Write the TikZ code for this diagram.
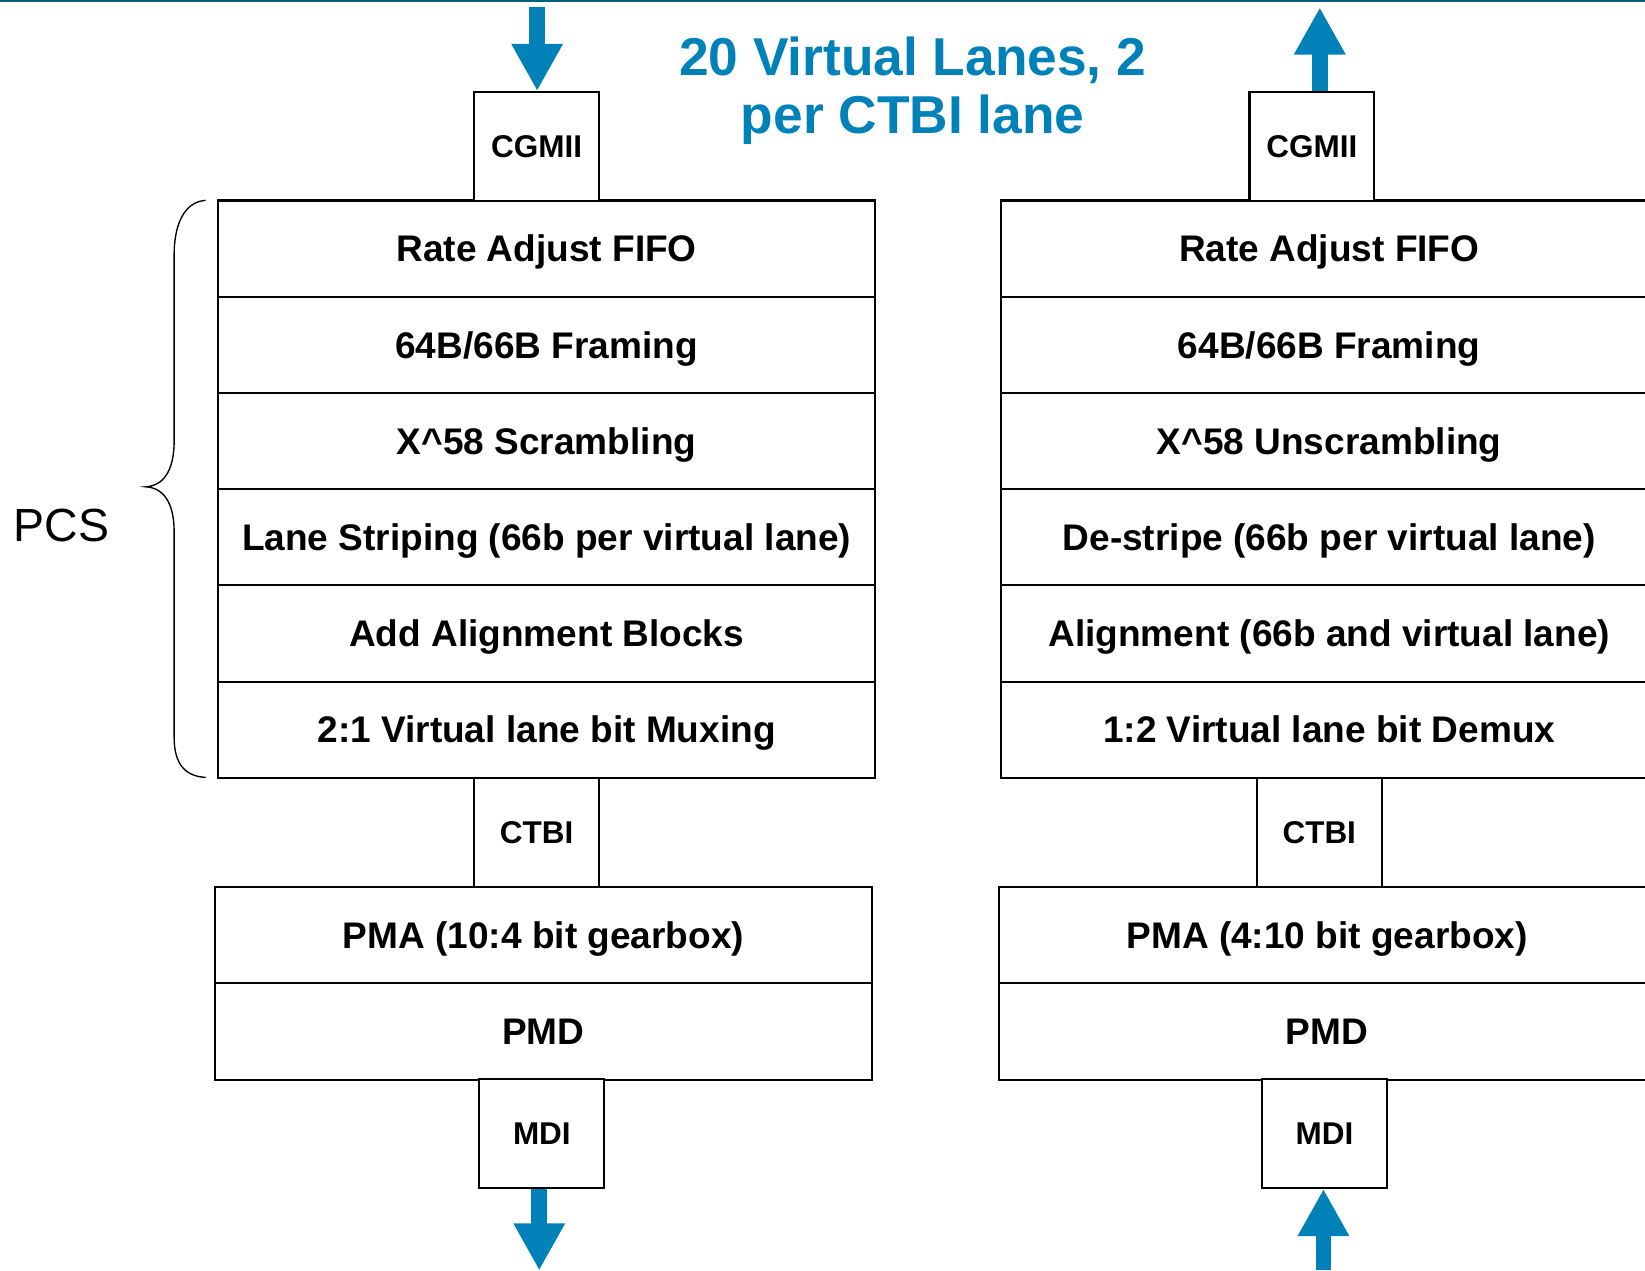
\documentclass[tikz,border=0pt]{standalone}
\usepackage{fontspec}
\setmainfont{Liberation Sans}
\usetikzlibrary{arrows.meta}
\definecolor{flowblue}{RGB}{0,130,185}
\definecolor{rulecol}{RGB}{0,94,128}
\tikzset{
  layer/.style={draw, line width=2pt, minimum width=626pt, minimum height=91.7pt,
    inner sep=0pt, text height=25.3pt, text depth=0pt,
    font=\fontsize{35.3}{40}\selectfont\bfseries},
  iface/.style={draw, line width=2pt, fill=white, minimum width=119pt, minimum height=103.5pt,
    inner sep=0pt, font=\fontsize{30}{34}\selectfont\bfseries},
  flow/.style={draw=flowblue, line width=15pt, line cap=butt,
    -{Triangle[width=46pt,length=45pt]}},
  heading/.style={text=flowblue, anchor=base, inner sep=0pt,
    font=\fontsize{50.8}{55}\selectfont\bfseries},
}
\begin{document}
\begin{tikzpicture}[x=1pt,y=-1pt]
\useasboundingbox (0,0) rectangle (1568,1211);
\clip (0,0) rectangle (1568,1211);
% thin rule along the top edge
\draw[rulecol, line width=1.6pt] (0,0.8) -- (1568,0.8);

% ---------- transmit side ----------
\foreach \name/\txt [count=\i from 0] in {
  tA/Rate Adjust FIFO,
  tB/64B\slash 66B Framing,
  tC/X\^{}58 Scrambling,
  tD/Lane Striping (66b per virtual lane),
  tE/Add Alignment Blocks,
  tF/2:1 Virtual lane bit Muxing}
  \node[layer] (\name) at (521,{237+91.7*\i}) {\txt};
\node[layer] (tPMA) at (518,891.5) {PMA (10:4 bit gearbox)};
\node[layer] (tPMD) at (518,983.2) {PMD};
\node[iface] (cgL) at (511.5,139.5) {CGMII};
\node[iface] (ctL) at (511.5,793.5) {CTBI};
\node[iface] (mdL) at (516.5,1080.5) {MDI};

% ---------- receive side ----------
\foreach \name/\txt [count=\i from 0] in {
  rA/Rate Adjust FIFO,
  rB/64B\slash 66B Framing,
  rC/X\^{}58 Unscrambling,
  rD/De-stripe (66b per virtual lane),
  rE/Alignment (66b and virtual lane),
  rF/1:2 Virtual lane bit Demux}
  \node[layer] (\name) at (1267,{237+91.7*\i}) {\txt};
\node[layer] (rPMA) at (1265,891.5) {PMA (4:10 bit gearbox)};
\node[layer] (rPMD) at (1265,983.2) {PMD};
\node[iface] (cgR) at (1250.5,139.5) {CGMII};
\node[iface] (ctR) at (1257.5,793.5) {CTBI};
\node[iface] (mdR) at (1262.5,1080.5) {MDI};

% ---------- data flow arrows ----------
\coordinate (inTop) at (512,7);
\coordinate (outTop) at (1258,7);
\coordinate (outBot) at (514,1211);
\coordinate (inBot) at (1261.5,1211);
\draw[flow] (inTop) -- (inTop |- cgL.north);
\draw[flow] (outTop |- cgR.north) -- (outTop);
\draw[flow] (outBot |- mdL.south) -- (outBot);
\draw[flow] (inBot) -- (inBot |- mdR.south);

% ---------- heading ----------
\node[heading] (head1) at (870,72) {20 Virtual Lanes, 2};
\node[heading] (head2) at (870,127) {per CTBI lane};

% ---------- PCS brace ----------
\draw[line width=1.3pt]
  (196,191) .. controls (178,192) and (166,210) .. (166,243) -- (166,420)
  .. controls (166,450) and (155,463) .. (139,464)
  .. controls (155,465) and (166,478) .. (166,507) -- (166,703)
  .. controls (166,730) and (178,740) .. (196,741);
\node[font=\fontsize{44.3}{50}\selectfont, anchor=base, inner sep=0pt] (pcs) at (58.5,516) {PCS};
\end{tikzpicture}
\end{document}
